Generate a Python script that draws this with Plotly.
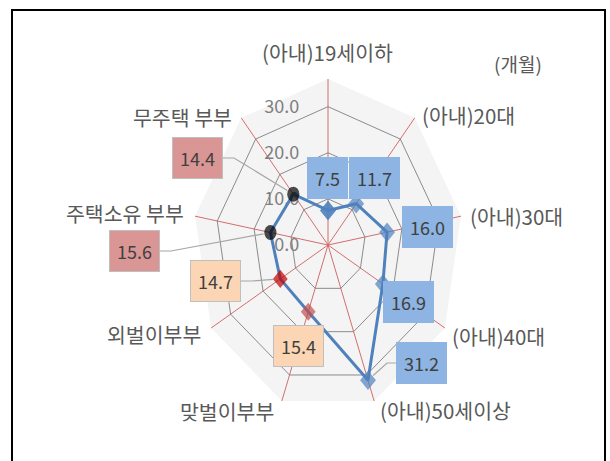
"""Radar chart: months by wife age group and household type."""

import numpy as np
import plotly.graph_objects as go

# --- data ----------------------------------------------------------------
categories = ['(아내)19세이하', '(아내)20대', '(아내)30대', '(아내)40대', '(아내)50세이상',
              '맞벌이부부', '외벌이부부', '주택소유 부부', '무주택 부부']
values = [7.5, 11.7, 16.0, 16.9, 31.2, 15.4, 14.7, 15.6, 14.4]
groups = ['age', 'age', 'age', 'age', 'age', 'work2', 'work1', 'house', 'house']
radial_ticks = [0, 10, 20, 30]
unit_label = '(개월)'

# --- styling -------------------------------------------------------------
W, H = 610, 461
CX, CY, R = 328, 245, 166          # polar centre / radius in px
SQUEEZE = 0.813                    # the original radar is squashed horizontally
RMAX = 36
FONT = 'Noto Sans CJK KR'

marker_style = {
    'age': dict(color='#4F81BD', symbol='diamond', size=15),
    'work2': dict(color='#C0504D', symbol='diamond', size=14),
    'work1': dict(color='#C00000', symbol='diamond', size=14),
    'house': dict(color='#000000', symbol='circle', size=15),
}
box_style = {
    'age': dict(bgcolor='#8DB4E2', bordercolor='#8DB4E2'),
    'work2': dict(bgcolor='#FCD5B4', bordercolor='#BFBFBF'),
    'work1': dict(bgcolor='#FCD5B4', bordercolor='#BFBFBF'),
    'house': dict(bgcolor='#DA9694', bordercolor='#BFBFBF'),
}

# where Excel put the data labels (box centre, px) and whether a leader line is drawn
label_pos = [(327, 178), (374, 178), (427, 227), (408, 302), (422, 363),
             (298, 346), (215, 281), (134, 251), (197, 158)]
leaders = {4: 'left', 6: 'right', 7: 'right', 8: 'right'}

# category text placement (px, anchor)
cat_pos = [(327, 52, 'center'), (420, 115, 'left'), (468, 216, 'left'),
           (450, 336, 'left'), (378, 410, 'left'), (276, 411, 'right'),
           (203, 334, 'right'), (186, 213, 'right'), (234, 117, 'right')]


def px(x):
    return x / W


def py(y):
    return 1 - y / H


def project(r, i):
    """Screen position (px) of a value on spoke i, after the horizontal squeeze."""
    ang = np.deg2rad(i * 360 / len(categories))
    d = R * r / RMAX
    return CX + SQUEEZE * d * np.sin(ang), CY - d * np.cos(ang)


fig = go.Figure()

fig.add_trace(go.Scatterpolar(
    r=values + [values[0]],
    theta=categories + [categories[0]],
    mode='lines+markers',
    line=dict(color='#4F81BD', width=3),
    marker=dict(
        color=[marker_style[g]['color'] for g in groups + [groups[0]]],
        symbol=[marker_style[g]['symbol'] for g in groups + [groups[0]]],
        size=[marker_style[g]['size'] for g in groups + [groups[0]]],
        line=dict(width=0),
    ),
    showlegend=False,
    hoverinfo='skip',
))

annotations = []
shapes = []

# data labels
for i, (v, g) in enumerate(zip(values, groups)):
    bx, by = label_pos[i]
    annotations.append(dict(
        x=px(bx), y=py(by), xref='paper', yref='paper',
        xanchor='center', yanchor='middle',
        text=f'{v:.1f}', showarrow=False,
        font=dict(family=FONT, size=18, color='#404040'),
        borderpad=7, borderwidth=1, **box_style[g],
    ))
    if i in leaders:
        # leader line from the box edge to the point, stopping at the marker rim
        tx, ty = project(v, i)
        half = 25 if leaders[i] == 'right' else -25
        ex = bx + half
        elbow = ex + (12 if leaders[i] == 'right' else -10)
        dx, dy = tx - elbow, ty - by
        k = max(0.0, 1 - 7 / np.hypot(dx, dy))
        tx, ty = elbow + dx * k, by + dy * k
        shapes.append(dict(
            type='path', xref='paper', yref='paper',
            path=f'M {px(ex)},{py(by)} L {px(elbow)},{py(by)} L {px(tx)},{py(ty)}',
            line=dict(color='#A6A6A6', width=1.2), layer='above',
        ))

# category labels
for name, (x, y, anchor) in zip(categories, cat_pos):
    annotations.append(dict(
        x=px(x), y=py(y), xref='paper', yref='paper', text=name,
        showarrow=False, xanchor=anchor, yanchor='middle',
        font=dict(family=FONT, size=20.5, color='#595959'),
    ))

annotations.append(dict(
    x=px(518), y=py(63), xref='paper', yref='paper', text=unit_label,
    xanchor='center', yanchor='middle',
    showarrow=False, font=dict(family=FONT, size=19, color='#595959'),
))

# chart frame
shapes.append(dict(type='rect', xref='paper', yref='paper',
                   x0=px(12), x1=px(605), y0=-0.02, y1=py(10),
                   line=dict(color='black', width=2)))

fig.update_layout(
    width=W, height=H,
    margin=dict(l=0, r=0, t=0, b=0),
    paper_bgcolor='white',
    font=dict(family=FONT),
    polar=dict(
        domain=dict(x=[px(CX - R), px(CX + R)], y=[py(CY + R), py(CY - R)]),
        gridshape='linear',
        bgcolor='#F4F4F4',
        angularaxis=dict(
            direction='clockwise', rotation=90,
            showticklabels=False, ticks='',
            showline=False,
            gridcolor='#D06060', gridwidth=1,
        ),
        radialaxis=dict(
            range=[0, RMAX], angle=90, side='counterclockwise',
            tickvals=radial_ticks, ticktext=[f'{t:.1f}' for t in radial_ticks],
            tickangle=90, ticks='outside', ticklen=22, tickcolor='rgba(0,0,0,0)',
            tickfont=dict(family=FONT, size=18, color='#7F7F7F'),
            showline=False, gridcolor='#808080', gridwidth=1,
            layer='below traces',
        ),
    ),
    annotations=annotations,
    shapes=shapes,
)

# squash the radar horizontally like the source image, keeping tick labels upright
squeeze_js = f"""
document.body.style.margin = '0';
var gd = document.getElementById('{{plot_id}}');
var sq = 'translate({CX},0) scale({SQUEEZE},1) translate({-CX},0) ';
var unsq = 'translate({CX},0) scale({1 / SQUEEZE},1) translate({-CX},0) ';
var layer = gd.querySelector('.polarlayer');
layer.setAttribute('transform', sq);
gd.querySelectorAll('.polarlayer .radial-axis').forEach(function (g) {{
    g.setAttribute('transform', unsq + (g.getAttribute('transform') || ''));
}});
"""

fig.write_html("out.html", post_script=squeeze_js,
               config={'displayModeBar': False})
